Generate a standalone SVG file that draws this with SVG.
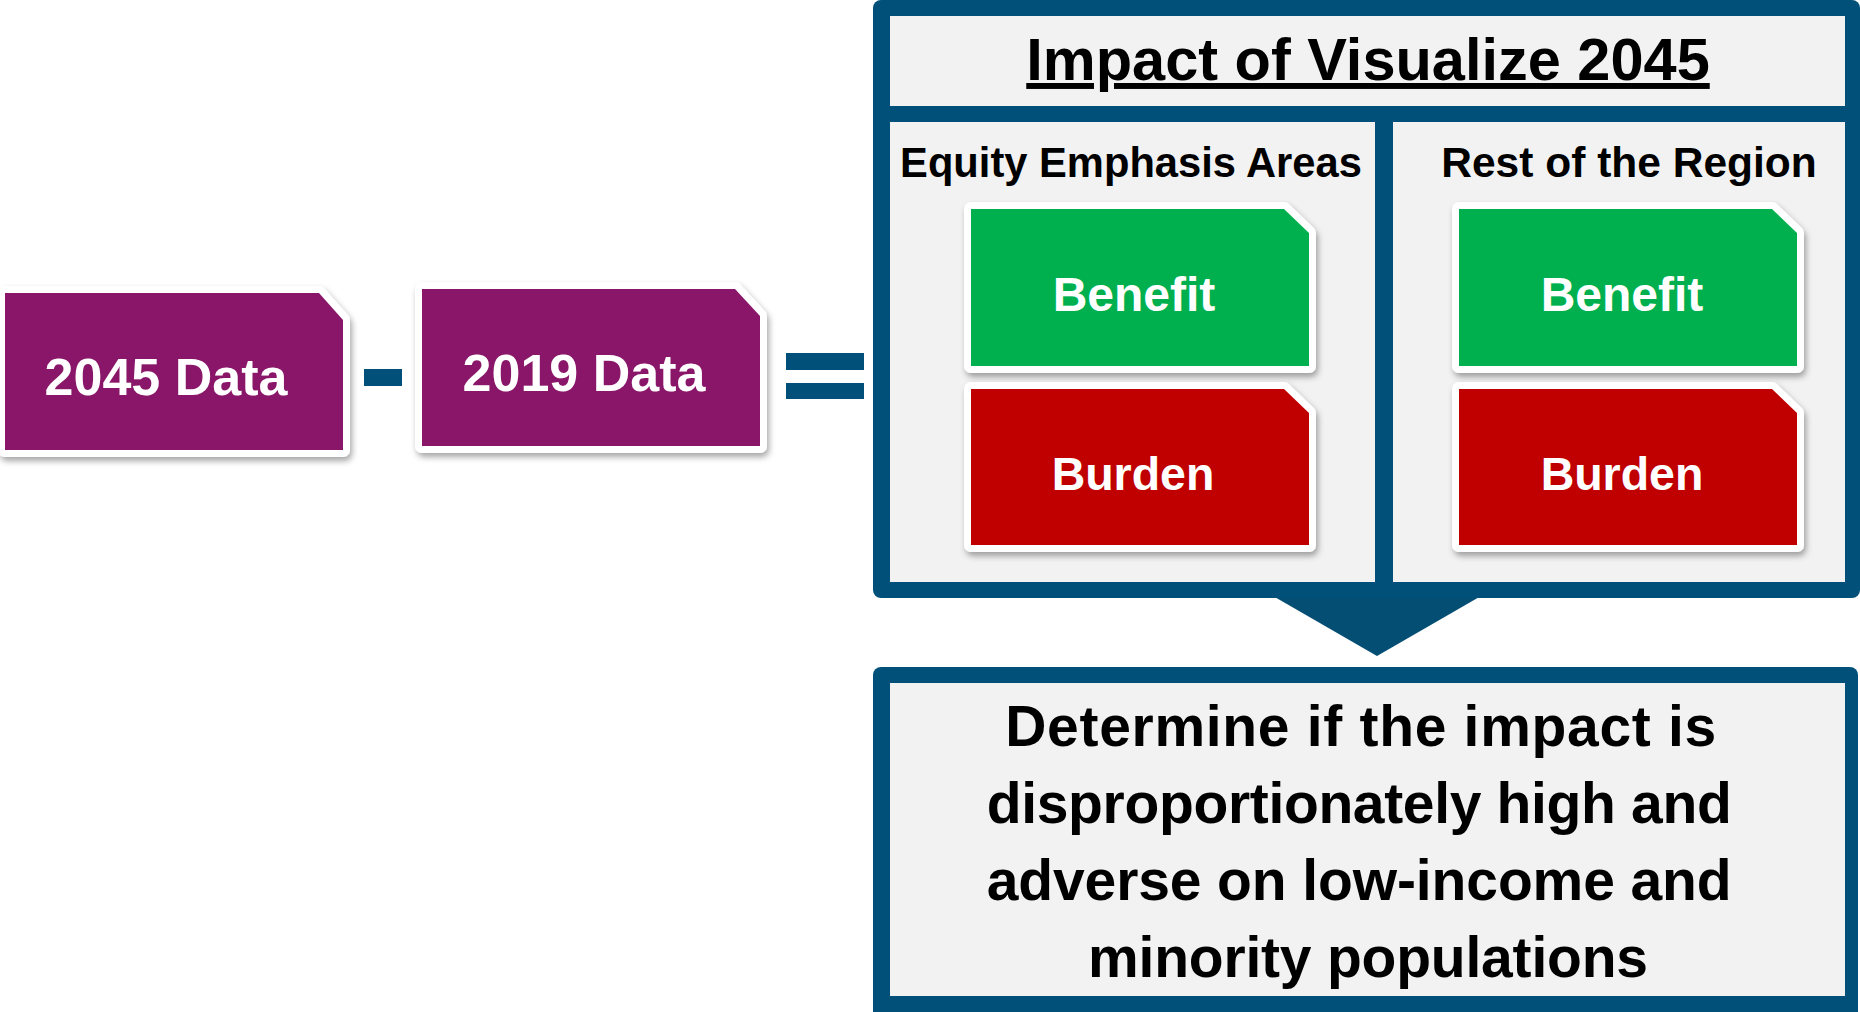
<svg xmlns="http://www.w3.org/2000/svg" width="1860" height="1012" viewBox="0 0 1860 1012">
  <defs>
    <filter id="sh" x="-10%" y="-10%" width="125%" height="130%">
      <feDropShadow dx="2" dy="4" stdDeviation="3" flood-color="#000" flood-opacity="0.35"/>
    </filter>
  </defs>
  <style>
    .navy { fill: #005079; }
    .panel { fill: #F2F2F2; }
    .card { stroke: #FFFFFF; stroke-width: 14; stroke-linejoin: round; paint-order: stroke; }
    .purple { fill: #891867; }
    .green { fill: #00B050; }
    .red { fill: #C00000; }
    .wt { fill: #FFFFFF; font-family: "Liberation Sans", Arial, sans-serif; font-weight: bold; text-anchor: middle; }
    .bt { fill: #000000; font-family: "Liberation Sans", Arial, sans-serif; font-weight: bold; text-anchor: middle; }
  </style>

  <g id="node-2045">
    <polygon class="card purple" filter="url(#sh)" points="5,293 319,293 343,320 343,450 5,450"/>
    <text class="wt" x="166" y="395" font-size="52">2045 Data</text>
  </g>

  <g id="node-2019">
    <polygon class="card purple" filter="url(#sh)" points="422,289 735,289 760,316 760,446 422,446"/>
    <text class="wt" x="584" y="391" font-size="52">2019 Data</text>
  </g>

  <g id="connectors">
    <rect id="minus" class="navy" x="364" y="369" width="38" height="17"/>
    <rect id="equals-top" class="navy" x="786" y="353" width="78" height="17"/>
    <rect id="equals-bottom" class="navy" x="786" y="383" width="78" height="16"/>
    <polygon id="down-arrow" fill="#044E74" points="1273,596 1481,596 1377,656"/>
  </g>

  <g id="impact-box">
    <rect class="navy" x="873" y="0" width="987" height="598" rx="8"/>
    <rect class="panel" x="890" y="16" width="955" height="90"/>
    <rect class="panel" x="890" y="122" width="485" height="460"/>
    <rect class="panel" x="1393" y="122" width="452" height="460"/>
    <text class="bt" x="1368" y="80" font-size="59.5" text-decoration="underline">Impact of Visualize 2045</text>
    <text class="bt" x="1131" y="177" font-size="41.7">Equity Emphasis Areas</text>
    <text class="bt" x="1629" y="177" font-size="42.5">Rest of the Region</text>
  </g>

  <g id="eea-benefit">
    <polygon class="card green" filter="url(#sh)" points="971,209 1284,209 1309,233 1309,366 971,366"/>
    <text class="wt" x="1134" y="311" font-size="48">Benefit</text>
  </g>
  <g id="eea-burden">
    <polygon class="card red" filter="url(#sh)" points="971,389 1284,389 1309,413 1309,545 971,545"/>
    <text class="wt" x="1133" y="490" font-size="46.5">Burden</text>
  </g>
  <g id="rest-benefit">
    <polygon class="card green" filter="url(#sh)" points="1459,209 1772,209 1797,233 1797,366 1459,366"/>
    <text class="wt" x="1622" y="311" font-size="48">Benefit</text>
  </g>
  <g id="rest-burden">
    <polygon class="card red" filter="url(#sh)" points="1459,389 1772,389 1797,413 1797,545 1459,545"/>
    <text class="wt" x="1622" y="490" font-size="46.5">Burden</text>
  </g>

  <g id="determine-box">
    <rect class="navy" x="873" y="667" width="985" height="360" rx="8"/>
    <rect class="panel" x="890" y="683" width="955" height="313"/>
    <text class="bt" font-size="57">
      <tspan x="1369" y="746" textLength="711" lengthAdjust="spacing">Determine if the impact is</tspan>
      <tspan x="1367" y="823" textLength="745" lengthAdjust="spacing">disproportionately high and</tspan>
      <tspan x="1367" y="900" textLength="745" lengthAdjust="spacing">adverse on low-income and</tspan>
      <tspan x="1368" y="977" textLength="560" lengthAdjust="spacing">minority populations</tspan>
    </text>
  </g>
</svg>
